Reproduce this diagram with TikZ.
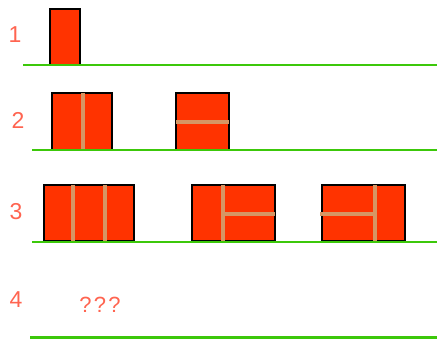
\documentclass[tikz,border=0pt]{standalone}
\usepackage{fontspec}
\setmainfont{Liberation Sans}
\definecolor{brickRed}{RGB}{255,51,0}
\definecolor{seamTan}{RGB}{214,150,100}
\definecolor{groundGreen}{RGB}{60,200,10}
\definecolor{labelRed}{RGB}{255,100,80}
\usepackage{tikz}
\usetikzlibrary{positioning,calc}

\begin{document}
\begin{tikzpicture}[x=1pt,y=-1pt,
    brick/.style={fill=brickRed, draw=black, line width=1.2pt},
    seam/.style={seamTan, line width=3.2pt},
    ground/.style={groundGreen, line width=2.6pt},
    rowlabel/.style={font=\fontsize{23}{26}\selectfont, text=labelRed, inner sep=0pt}]
      \useasboundingbox (0,0) rectangle (437,339);
      % Row labels
      \node[rowlabel] (one) at (15,35) {1};
      \node[rowlabel] (two) at (18,120) {2};
      \node[rowlabel] (three) at (16,212) {3};
      \node[rowlabel] (four) at (16,300) {4};
      \node[rowlabel, font=\fontsize{22}{26}\selectfont\addfontfeature{LetterSpace=10}]
        (unknown) at (100,305) {???};
      % Row 1
      \draw[brick] (50,9) rectangle (80,65);
      \draw[ground] (23,65) -- (437,65);
      % Row 2
      \draw[brick] (52,93) rectangle (112,150);
      \draw[seam] (83,93) -- (83,150);
      \draw[brick] (176,93) rectangle (229,150);
      \draw[seam] (176,122) -- (229,122);
      \draw[ground] (32,150) -- (437,150);
      % Row 3
      \draw[brick] (44,185) rectangle (134,241);
      \draw[seam] (73,185) -- (73,242);
      \draw[seam] (105,185) -- (105,242);
      \draw[brick] (192,185) rectangle (275,241);
      \draw[seam] (223,185) -- (223,242);
      \draw[seam] (223,214) -- (275,214);
      \draw[brick] (322,185) rectangle (405,241);
      \draw[seam] (375,185) -- (375,242);
      \draw[seam] (320,214) -- (375,214);
      \draw[ground] (32,242) -- (437,242);
      % Row 4
      \draw[ground] (30,337.5) -- (437,337.5);
    \end{tikzpicture}
\end{document}
